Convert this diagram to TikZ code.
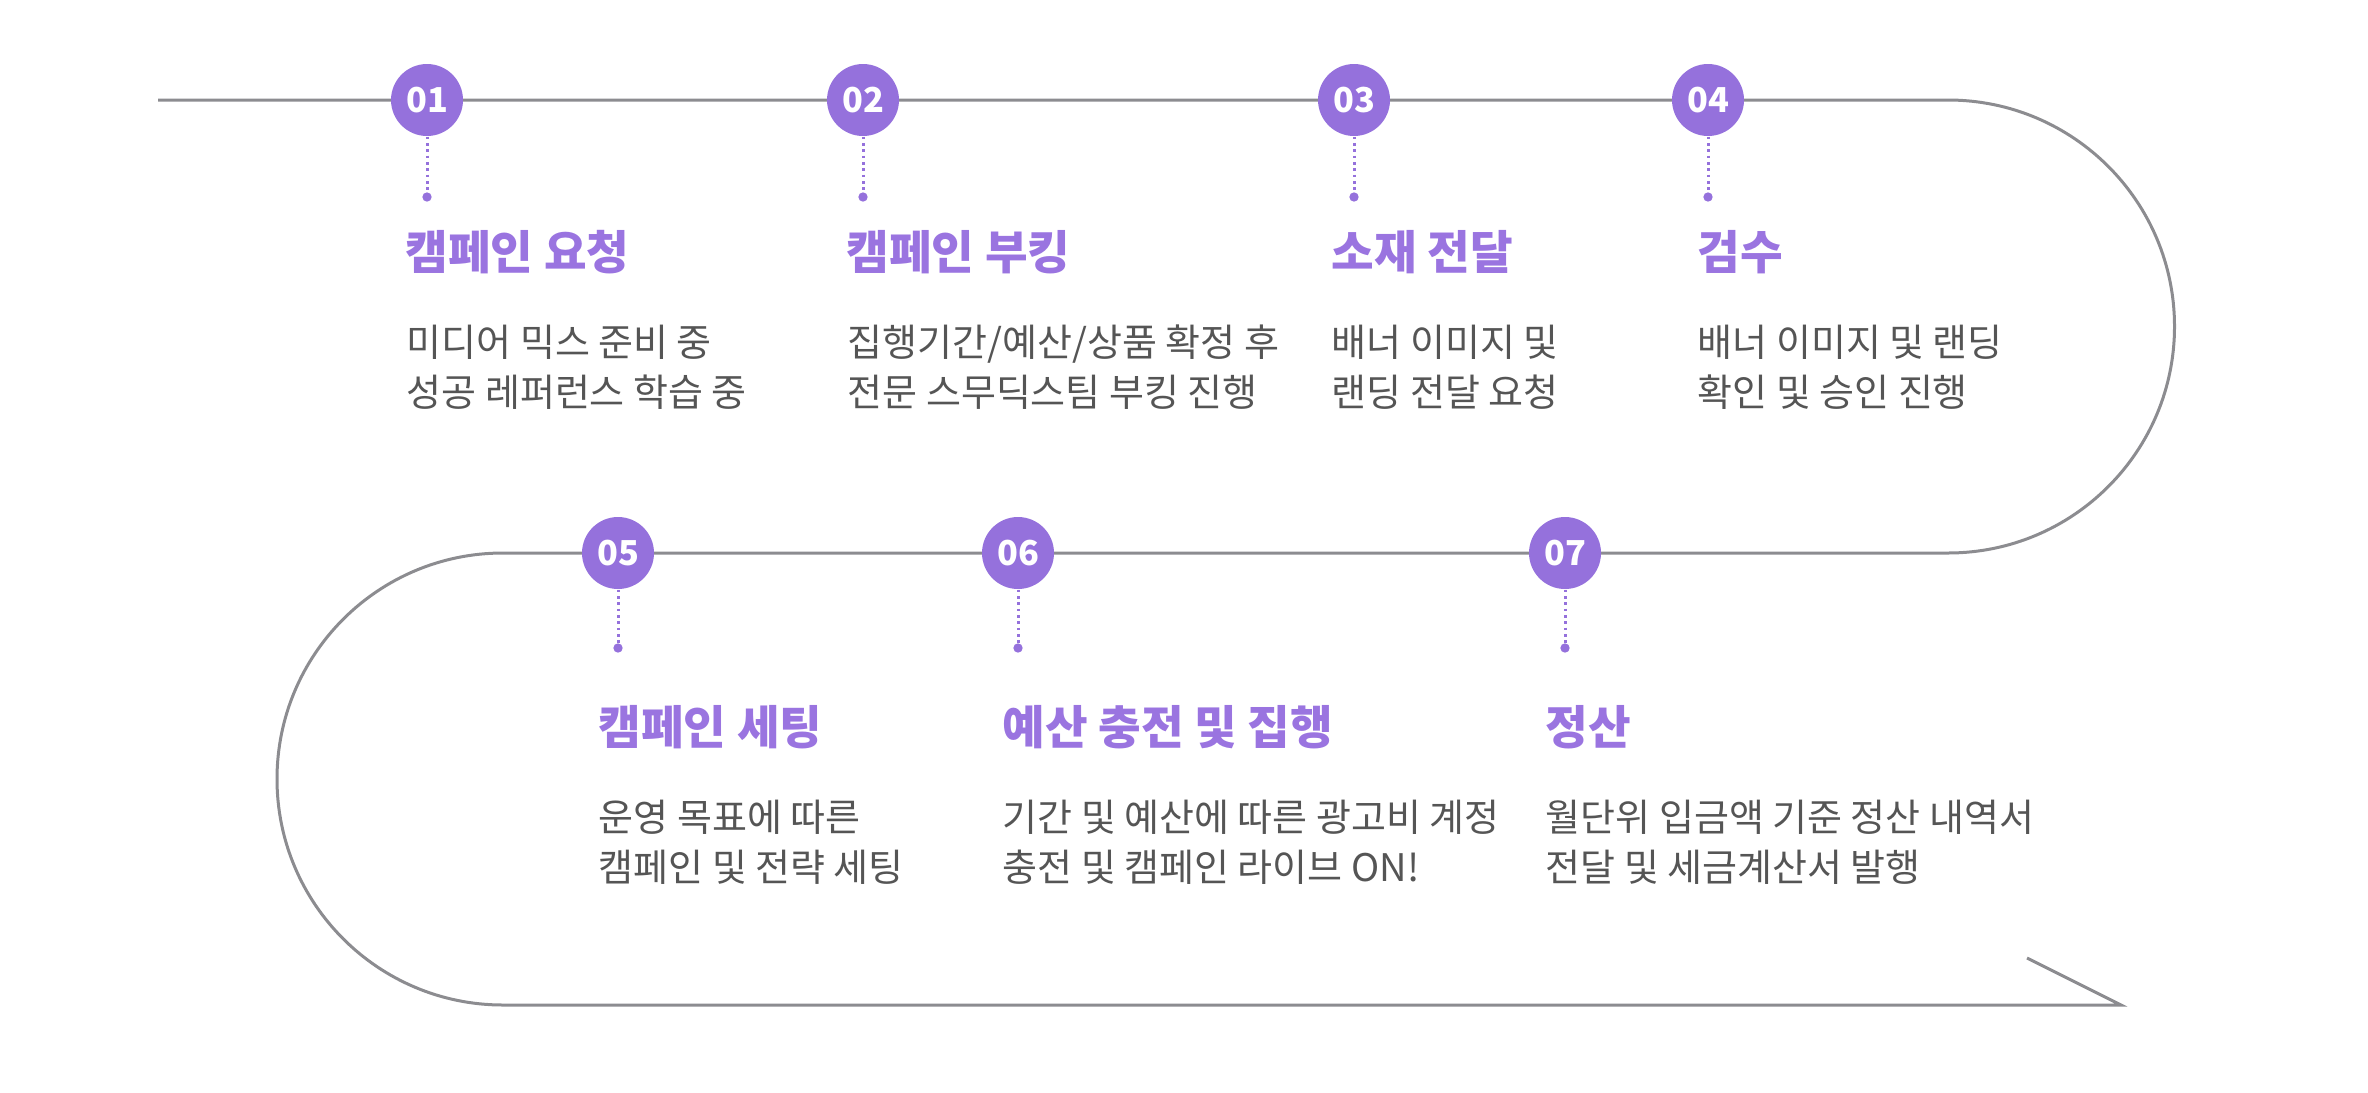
\documentclass[tikz,border=0pt]{standalone}
\usepackage{fontspec}
\setmainfont{Noto Sans CJK KR}
\usepackage{tikz}
\usetikzlibrary{positioning}
\definecolor{stepviolet}{HTML}{9571DC}
\definecolor{titleviolet}{HTML}{9A74E0}
\definecolor{roadgray}{HTML}{8C8C90}
\definecolor{descgray}{HTML}{555555}
\tikzstyle{stepnum}=[circle,fill=stepviolet,minimum size=21.6pt,inner sep=0pt,text=white,font={\fontsize{10.3}{11}\selectfont\bfseries}]
\tikzstyle{pin}=[circle,fill=stepviolet,minimum size=2.8pt,inner sep=0pt]
\tikzstyle{steptitle}=[anchor=base west,inner sep=0pt,text=titleviolet,font={\fontsize{13.9}{15}\selectfont\bfseries}]
\tikzstyle{stepdesc}=[anchor=base west,inner sep=0pt,align=left,text=descgray,font={\fontsize{11.4}{15}\selectfont}]
\tikzstyle{road}=[draw=roadgray,line width=0.9pt]
\tikzstyle{dotline}=[draw=stepviolet,line width=0.9pt,dash pattern=on 0.8pt off 1.1pt]

\begin{document}
\begin{tikzpicture}[x=0.3pt,y=-0.3pt]
\useasboundingbox (0,0) rectangle (2368,1092);
% road
\coordinate (start) at (158,100);
\coordinate (end) at (2121,1005);
\draw[road] (start) -- (1948,100) arc (-90:90:226.5) -- (503,553)
  arc (-90:-270:226) -- (end) -- (2027,958);
% first row
\node [stepnum] (s1) at (427,100) {01};
\node [stepnum] (s2) at (863,100) {02};
\node [stepnum] (s3) at (1354,100) {03};
\node [stepnum] (s4) at (1708,100) {04};
\node [pin] (p1) at (427,197) {};
\node [pin] (p2) at (863,197) {};
\node [pin] (p3) at (1354,197) {};
\node [pin] (p4) at (1708,197) {};
\foreach \i in {1,...,4} \draw[dotline] (s\i) -- (p\i);
\node [steptitle] (t1) at (405,269) {캠페인 요청};
\node [steptitle] (t2) at (846,269) {캠페인 부킹};
\node [steptitle] (t3) at (1331,269) {소재 전달};
\node [steptitle] (t4) at (1697,269) {검수};
% base of a two-line node sits on its last line
\node [stepdesc] (d1) at (406,406) {미디어 믹스 준비 중\\성공 레퍼런스 학습 중};
\node [stepdesc] (d2) at (847,406) {집행기간/예산/상품 확정 후\\전문 스무딕스팀 부킹 진행};
\node [stepdesc] (d3) at (1331,406) {배너 이미지 및\\랜딩 전달 요청};
\node [stepdesc] (d4) at (1697,406) {배너 이미지 및 랜딩\\확인 및 승인 진행};
% second row
\node [stepnum] (s5) at (618,553) {05};
\node [stepnum] (s6) at (1018,553) {06};
\node [stepnum] (s7) at (1565,553) {07};
\node [pin] (p5) at (618,648) {};
\node [pin] (p6) at (1018,648) {};
\node [pin] (p7) at (1565,648) {};
\foreach \i in {5,6,7} \draw[dotline] (s\i) -- (p\i);
\node [steptitle] (t5) at (598,744) {캠페인 세팅};
\node [steptitle] (t6) at (1002,744) {예산 충전 및 집행};
\node [steptitle] (t7) at (1545,744) {정산};
\node [stepdesc] (d5) at (598,881) {운영 목표에 따른\\캠페인 및 전략 세팅};
\node [stepdesc] (d6) at (1002,881) {기간 및 예산에 따른 광고비 계정\\충전 및 캠페인 라이브 ON!};
\node [stepdesc] (d7) at (1545,881) {월단위 입금액 기준 정산 내역서\\전달 및 세금계산서 발행};
\end{tikzpicture}
\end{document}
